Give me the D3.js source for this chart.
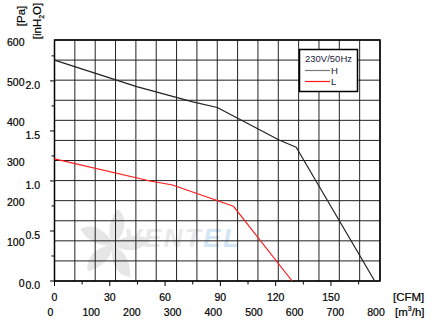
<!DOCTYPE html>
<html>
<head>
<meta charset="utf-8">
<script src="https://cdn.jsdelivr.net/npm/d3@7"></script>
<style>
  html, body { margin: 0; padding: 0; background: #fff; }
  svg { display: block; font-family: "Liberation Sans", Arial, sans-serif; }
  .lbl { stroke: #000; stroke-width: 0.2; }
</style>
</head>
<body>
<svg id="chart" width="437" height="328"></svg>
<script>
// Fan performance curves: static pressure versus airflow
const airflowH = [0, 202, 340, 400, 552, 594, 787];      // m³/h
const pressureH = [550, 484, 446, 432, 351, 333, 0];     // Pa
const airflowL = [0, 235, 290, 440, 584];                // m³/h
const pressureL = [304, 249, 239, 186, 0];               // Pa

const paTicks = [0, 100, 200, 300, 400, 500, 600];
const inH2OTicks = [0.0, 0.5, 1.0, 1.5, 2.0];
const m3hTicks = [0, 100, 200, 300, 400, 500, 600, 700, 800];
const cfmTicks = [0, 30, 60, 90, 120, 150];
const legendTitle = "230V/50Hz";
const seriesNames = ["H", "L"];
const seriesColors = ["#222", "#ff1a1a"];

const PA_PER_INH2O = 249.09;
const CFM_MAX = 176.6;

const svg = d3.select("#chart");
const plotL = 54.5, plotR = 380, plotT = 40, plotB = 281;

const x = d3.scaleLinear().domain([0, 800]).range([plotL, plotR]);
const y = d3.scaleLinear().domain([0, 600]).range([plotB, plotT]);
const yIn = d3.scaleLinear().domain([0, 600 / PA_PER_INH2O]).range([plotB, plotT]);
const xCfm = d3.scaleLinear().domain([0, CFM_MAX]).range([plotL, plotR]);

// faint watermark
const wm = svg.append("g");
const fan = wm.append("g").attr("transform", "translate(113,245)");
for (let i = 0; i < 5; i++) {
  fan.append("path")
    .attr("d", "M0,0 C10,-7 17,-26 5,-36 C-3,-27 -7,-13 0,0 Z")
    .attr("fill", "#e6e6e6")
    .attr("transform", `rotate(${i * 72})`);
}
const wmText = wm.append("text")
  .attr("x", 124).attr("y", 247)
  .attr("font-size", 26).attr("font-weight", "bold").attr("font-style", "italic")
  .attr("letter-spacing", 2.5);
wmText.append("tspan").attr("fill", "#e9e9e9").text("VENT");
wmText.append("tspan").attr("fill", "#d3e6f5").text("EL");

// grid
const grid = svg.append("g").attr("stroke", "#222").attr("stroke-width", 1);
grid.selectAll("line.v").data(d3.range(0, 801, 50)).join("line").attr("class", "v")
  .attr("x1", d => x(d)).attr("x2", d => x(d))
  .attr("y1", plotT).attr("y2", plotB);
grid.selectAll("line.h").data(d3.range(0, 601, 50)).join("line").attr("class", "h")
  .attr("x1", plotL).attr("x2", plotR)
  .attr("y1", d => y(d)).attr("y2", d => y(d));

svg.append("rect")
  .attr("x", plotL).attr("y", plotT)
  .attr("width", plotR - plotL).attr("height", plotB - plotT)
  .attr("fill", "none").attr("stroke", "#000").attr("stroke-width", 1.5);

// left axis: inH2O ticks
const inAxis = svg.append("g");
inAxis.selectAll("line").data(d3.range(0, 2.26, 0.25)).join("line")
  .attr("x1", (d, i) => i % 2 === 0 ? plotL - 4.5 : plotL - 3)
  .attr("x2", plotL)
  .attr("y1", d => yIn(d)).attr("y2", d => yIn(d))
  .attr("stroke", "#000").attr("stroke-width", 1);
inAxis.selectAll("text").data(inH2OTicks).join("text").attr("class", "lbl")
  .attr("x", 40).attr("y", d => yIn(d) + 8)
  .attr("text-anchor", "end").attr("font-size", 10.5).attr("fill", "#000")
  .text(d => d.toFixed(1));

// left axis: Pa labels
svg.append("g").selectAll("text").data(paTicks).join("text").attr("class", "lbl")
  .attr("x", 24.5).attr("y", d => y(d) + 5.5)
  .attr("text-anchor", "end").attr("font-size", 10.5).attr("fill", "#000")
  .text(d => d);

// bottom axis: CFM ticks and labels
const cfmAxis = svg.append("g");
cfmAxis.selectAll("line").data(d3.range(0, 170, 15)).join("line")
  .attr("x1", d => xCfm(d)).attr("x2", d => xCfm(d))
  .attr("y1", plotB).attr("y2", (d, i) => i % 2 === 0 ? plotB + 5 : plotB + 3.5)
  .attr("stroke", "#000").attr("stroke-width", 1);
cfmAxis.selectAll("text").data(cfmTicks).join("text").attr("class", "lbl")
  .attr("x", d => xCfm(d)).attr("y", 300.5)
  .attr("text-anchor", "middle").attr("font-size", 10.5).attr("fill", "#000")
  .text(d => d);

// bottom axis: m³/h labels
svg.append("g").selectAll("text").data(m3hTicks).join("text").attr("class", "lbl")
  .attr("x", d => x(d) - 4).attr("y", 315.5)
  .attr("text-anchor", "middle").attr("font-size", 10.5).attr("fill", "#000")
  .text(d => d);

// unit labels
svg.append("text").attr("class", "lbl").attr("x", 393).attr("y", 300.5)
  .attr("font-size", 11.5).attr("fill", "#000").text("[CFM]");
const m3 = svg.append("text").attr("class", "lbl").attr("x", 395).attr("y", 316)
  .attr("font-size", 11.5).attr("fill", "#000");
m3.append("tspan").text("[m");
m3.append("tspan").attr("font-size", 7).attr("dy", -5).text("3");
m3.append("tspan").attr("dy", 5).text("/h]");

svg.append("text").attr("class", "lbl").attr("transform", "translate(25,16) rotate(-90)")
  .attr("text-anchor", "middle").attr("font-size", 11.5).attr("fill", "#000")
  .text("[Pa]");
const inH = svg.append("text").attr("class", "lbl").attr("transform", "translate(41,21) rotate(-90)")
  .attr("text-anchor", "middle").attr("font-size", 11.5).attr("fill", "#000");
inH.append("tspan").text("[inH");
inH.append("tspan").attr("font-size", 7).attr("dy", 3).text("2");
inH.append("tspan").attr("dy", -3).text("O]");

// curves
const line = d3.line().x(d => x(d[0])).y(d => y(d[1]));
const curves = [
  d3.zip(airflowH, pressureH),
  d3.zip(airflowL, pressureL)
];
svg.append("g").selectAll("path").data(curves).join("path")
  .attr("d", line)
  .attr("fill", "none")
  .attr("stroke", (d, i) => seriesColors[i])
  .attr("stroke-width", 1.2)
  .attr("stroke-linejoin", "round");

// legend
const lg = svg.append("g");
lg.append("rect").attr("x", 299.5).attr("y", 49.5).attr("width", 58).attr("height", 42)
  .attr("fill", "#fff").attr("stroke", "#000").attr("stroke-width", 1.5);
lg.append("text").attr("x", 305).attr("y", 62)
  .attr("font-size", 9.5).attr("fill", "#1a1a40").text(legendTitle);
seriesNames.forEach((name, i) => {
  const yy = 70.5 + i * 11;
  lg.append("line").attr("x1", 305).attr("x2", 330).attr("y1", yy).attr("y2", yy)
    .attr("stroke", i === 0 ? "#777" : seriesColors[i]).attr("stroke-width", 1.2);
  lg.append("text").attr("x", 331).attr("y", yy + 3.5)
    .attr("font-size", 9.5).attr("fill", "#1a1a40").text(name);
});
</script>
</body>
</html>
